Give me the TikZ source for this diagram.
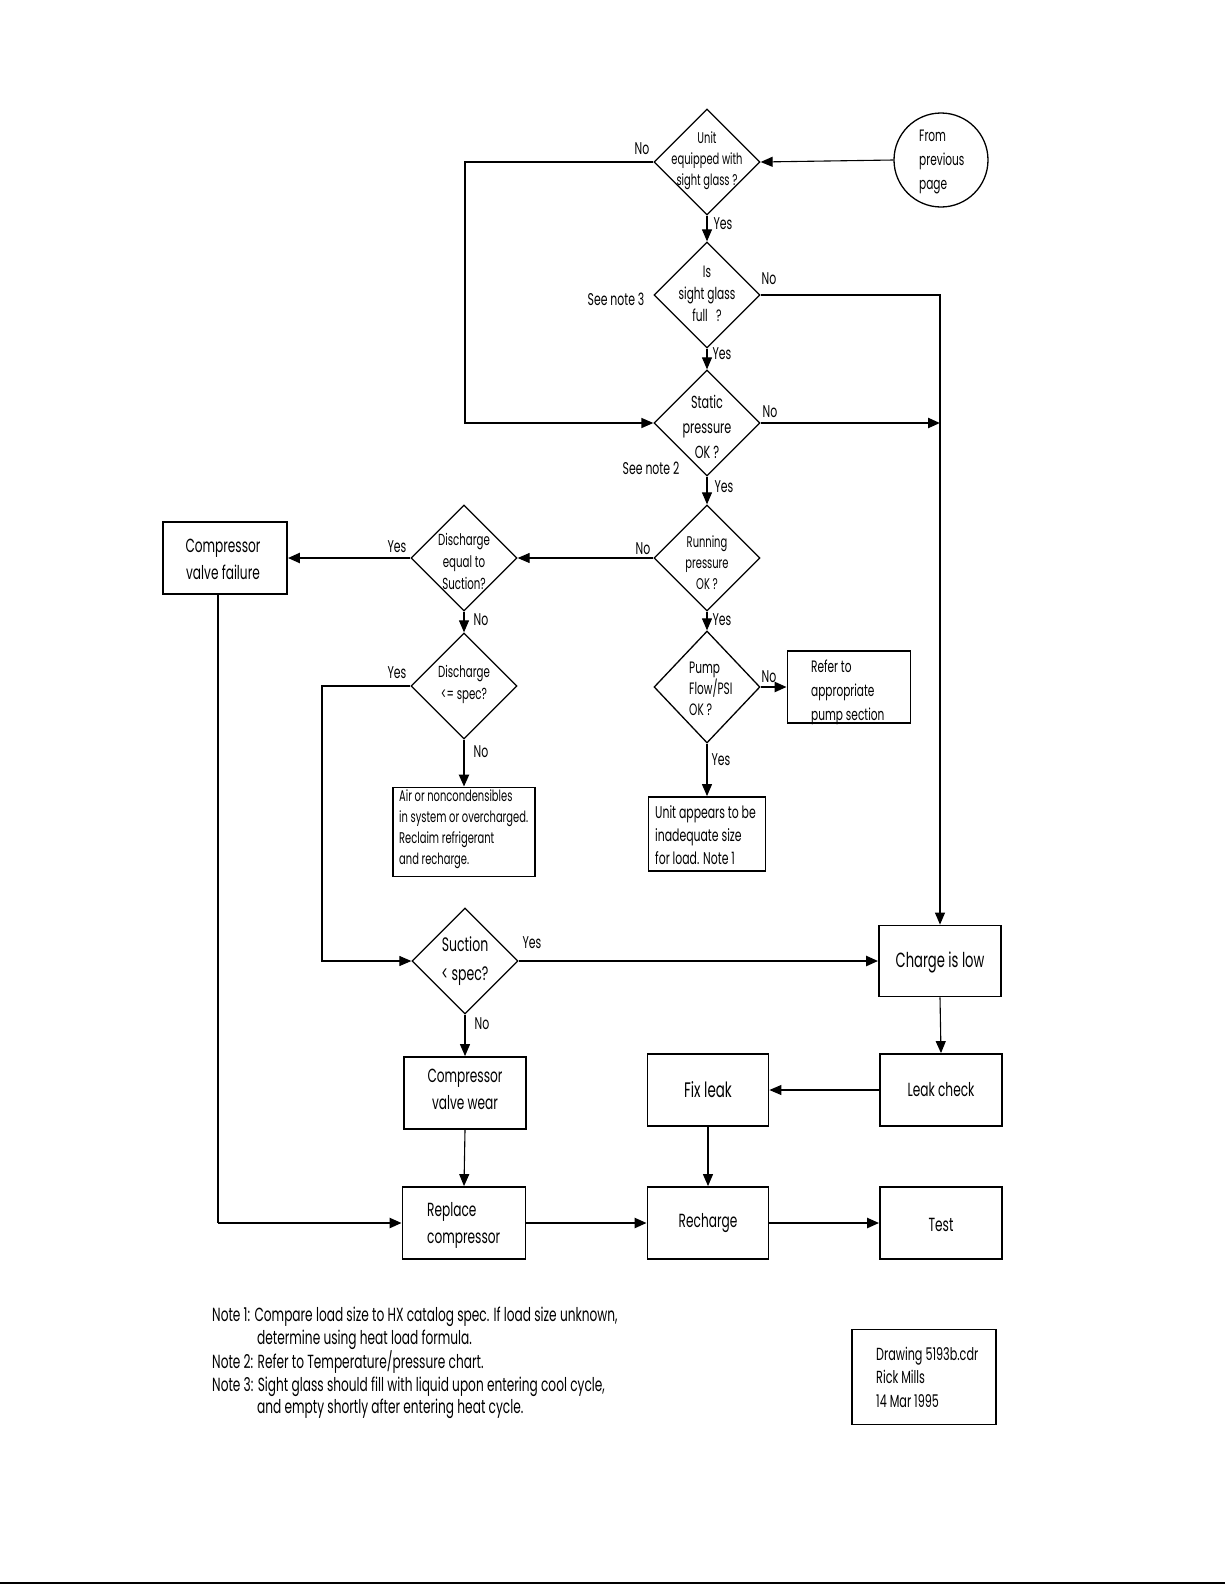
\documentclass[tikz,border=0pt]{standalone}
\usepackage{fontspec}
\setmainfont{Poppins}[FakeStretch=0.64]
\usetikzlibrary{arrows.meta,shapes.geometric}
\begin{document}
\begin{tikzpicture}[x=1pt,y=-1pt,
  dia/.style={diamond,draw,line width=1.3pt,minimum width=106pt,minimum height=106pt,inner sep=0pt},
  bx/.style={rectangle,draw,line width=1.8pt,inner sep=0pt},
  thinln/.style={line width=1.1pt},
  thickln/.style={line width=2.3pt},
  arr/.style={-{Triangle[length=12pt,width=10pt]}},
  dtxt/.style={align=center,inner sep=0pt,font=\fontsize{15.5}{21}\selectfont},
  dtxtl/.style={align=left,inner sep=0pt,font=\fontsize{16.5}{21}\selectfont},
  btxt/.style={align=center,inner sep=0pt,font=\fontsize{19}{27}\selectfont},
  stxt/.style={align=left,inner sep=0pt,anchor=west,font=\fontsize{13}{21}\selectfont},
  lbl/.style={inner sep=0pt,font=\fontsize{17}{19}\selectfont}]
\useasboundingbox (0,0) rectangle (1225,1585);

% diamonds
\node[dia] (d1) at (707,162) {};
\node[dia] (d2) at (707,295) {};
\node[dia] (d3) at (707,423) {};
\node[dia] (d4) at (707,558) {};
\node[dia,minimum height=112pt] (d6) at (707,687) {};
\node[dia] (d5) at (464,558) {};
\node[dia] (d7) at (464,686) {};
\node[dia] (d8) at (465,961) {};

\node[dtxt] at (707,161) {Unit\\equipped with\\sight glass ?};
\node[dtxt,font=\fontsize{16.5}{22}\selectfont] at (707,294) {Is\\sight glass\\full\enspace ?};
\node[dtxt,font=\fontsize{17.5}{25}\selectfont] at (707,427) {Static\\pressure\\OK ?};
\node[dtxt] at (707,563) {Running\\pressure\\OK ?};
\node[dtxtl,anchor=west] at (689,689) {Pump\\Flow/PSI\\OK ?};
\node[dtxt,font=\fontsize{16}{22}\selectfont] at (464,561) {Discharge\\equal to\\Suction?};
\node[dtxt,font=\fontsize{16}{22}\selectfont] at (464,684) {Discharge\\<= spec?};
\node[dtxt,font=\fontsize{19.5}{29}\selectfont] at (465,961) {Suction\\< spec?};

% start circle
\node[circle,draw,line width=1.3pt,minimum size=94pt,inner sep=0pt] (prev) at (941,160) {};
\node[stxt,font=\fontsize{16.5}{24}\selectfont] at (919,162) {From\\previous\\page};

% boxes
\node[bx,minimum width=124pt,minimum height=72pt] (cvf) at (225,558) {};
\node[btxt] at (223,559) {Compressor\\valve failure};
\node[bx,minimum width=142pt,minimum height=89pt] (air) at (464,832) {};
\node[stxt,font=\fontsize{15.5}{21}\selectfont] at (399,829) {Air or noncondensibles\\in system or overcharged.\\Reclaim refrigerant\\and recharge.};
\node[bx,minimum width=123pt,minimum height=72pt] (pump) at (849,687) {};
\node[stxt,font=\fontsize{16.5}{24}\selectfont] at (811,692) {Refer to\\appropriate\\pump section};
\node[bx,minimum width=117pt,minimum height=74pt] (unit) at (707,834) {};
\node[stxt,font=\fontsize{17}{23}\selectfont] at (655,835) {Unit appears to be\\inadequate size\\for load. Note 1};
\node[bx,minimum width=122pt,minimum height=71pt] (charge) at (940,961) {};
\node[btxt,font=\fontsize{20.5}{27}\selectfont] at (940,962) {Charge is low};
\node[bx,minimum width=122pt,minimum height=72pt] (cvw) at (465,1093) {};
\node[btxt] at (465,1089) {Compressor\\valve wear};
\node[bx,minimum width=121pt,minimum height=72pt] (fix) at (708,1090) {};
\node[btxt,font=\fontsize{21}{27}\selectfont] at (708,1090) {Fix leak};
\node[bx,minimum width=122pt,minimum height=72pt] (leak) at (941,1090) {};
\node[btxt] at (941,1090) {Leak check};
\node[bx,minimum width=123pt,minimum height=72pt] (replace) at (464,1223) {};
\node[btxt,align=left,anchor=west] at (427,1225) {Replace\\compressor};
\node[bx,minimum width=121pt,minimum height=72pt] (recharge) at (708,1223) {};
\node[btxt] at (708,1223) {Recharge};
\node[bx,minimum width=122pt,minimum height=72pt] (test) at (941,1223) {};
\node[btxt] at (941,1225) {Test};

% connectors
\coordinate (c1) at (465,162);
\coordinate (c3) at (940,423);
\coordinate (c4) at (322,686);
\coordinate (c5) at (218,1223);
\draw[thinln,arr] (prev.west) -- (d1.east);
\draw[line width=1.6pt,arr] (d1.west) -- (c1) |- (d3.west);
\draw[thinln,arr] (d1.south) -- (d2.north);
\draw[thinln,arr] (d2.south) -- (d3.north);
\draw[thinln,arr] (d3.south) -- (d4.north);
\draw[thinln,arr] (d4.south) -- (d6.north);
\draw[thinln,arr] (d2.east) -| (charge.north);
\draw[thickln,arr] (d3.east) -- (c3);
\draw[thinln,arr] (d4.west) -- (d5.east);
\draw[thickln,arr] (d5.west) -- (cvf.east);
\draw[thinln,arr] (d5.south) -- (d7.north);
\draw[thinln,arr] (d7.west) -- (c4) |- (d8.west);
\draw[thickln,arr] (d7.south) -- (air.north);
\draw[thickln,arr] (d6.east) -- (pump.west);
\draw[thinln,arr] (d6.south) -- (unit.north);
\draw[thickln,arr] (d8.east) -- (charge.west);
\draw[thinln,arr] (d8.south) -- (cvw.north);
\draw[thinln] ([xshift=-7pt]cvf.south) -- (c5);
\draw[thickln,arr] (c5) -- (replace.west);
\draw[thinln,arr] (cvw.south) -- (replace.north);
\draw[thinln,arr] (charge.south) -- (leak.north);
\draw[thinln,arr] (leak.west) -- (fix.east);
\draw[thinln,arr] (fix.south) -- (recharge.north);
\draw[thickln,arr] (replace.east) -- (recharge.west);
\draw[thickln,arr] (recharge.east) -- (test.west);

% labels
\node[lbl] at (642,149) {No};
\node[lbl] at (723,224) {Yes};
\node[lbl] at (616,299) {See note 3};
\node[lbl] at (769,279) {No};
\node[lbl] at (722,354) {Yes};
\node[lbl] at (770,412) {No};
\node[lbl] at (651,468) {See note 2};
\node[lbl] at (724,487) {Yes};
\node[lbl] at (643,549) {No};
\node[lbl] at (722,620) {Yes};
\node[lbl] at (397,547) {Yes};
\node[lbl] at (481,620) {No};
\node[lbl] at (397,673) {Yes};
\node[lbl] at (481,752) {No};
\node[lbl] at (769,677) {No};
\node[lbl] at (721,760) {Yes};
\node[lbl] at (532,943) {Yes};
\node[lbl] at (482,1024) {No};

% notes
\node[stxt,font=\fontsize{19}{22.8}\selectfont] at (212,1363) {Note 1: Compare load size to HX catalog spec. If load size unknown,\\
\hspace*{45pt}determine using heat load formula.\\
Note 2: Refer to Temperature/pressure chart.\\
Note 3: Sight glass should fill with liquid upon entering cool cycle,\\
\hspace*{45pt}and empty shortly after entering heat cycle.};

\node[bx,minimum width=144pt,minimum height=95pt] (info) at (924,1377) {};
\node[stxt,font=\fontsize{17.5}{23.5}\selectfont] at (876,1377) {Drawing 5193b.cdr\\Rick Mills\\14 Mar 1995};

\draw[line width=2pt] (0,1583) -- (1225,1583);
\end{tikzpicture}
\end{document}
